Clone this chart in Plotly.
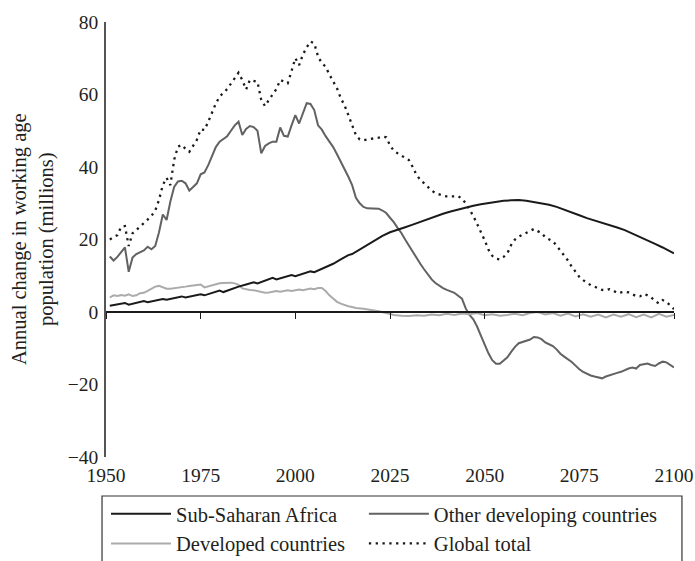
import plotly.graph_objects as go

# ---- data ----
ssa_years = [1951, 1953, 1955, 1956, 1958, 1960, 1961, 1963, 1965, 1966, 1968, 1970, 1971, 1973, 1975,
             1976, 1978, 1980, 1981, 1983, 1985, 1987, 1989, 1990, 1992, 1994, 1995, 1997, 1999, 2000,
             2002, 2004, 2005, 2007, 2009, 2010, 2012, 2014, 2015, 2017, 2019, 2021, 2023, 2025, 2027,
             2029, 2031, 2033, 2035, 2037, 2039, 2041, 2043, 2045, 2047, 2049, 2051, 2053, 2055, 2057,
             2059, 2061, 2063, 2065, 2067, 2069, 2071, 2073, 2075, 2077, 2079, 2081, 2083, 2085, 2087,
             2089, 2091, 2093, 2095, 2097, 2099, 2100]
ssa_values = [1.7, 2.1, 2.5, 2.0, 2.6, 3.0, 2.7, 3.2, 3.6, 3.4, 3.9, 4.3, 4.0, 4.5, 4.9,
              4.6, 5.3, 5.9, 5.5, 6.3, 7.0, 7.6, 8.2, 7.9, 8.7, 9.4, 9.0, 9.7, 10.2, 9.9,
              10.6, 11.2, 11.0, 11.9, 12.8, 13.3, 14.5, 15.7, 16.0, 17.3, 18.6, 19.9, 21.0, 22.0, 22.6,
              23.4, 24.1, 24.9, 25.7, 26.4, 27.1, 27.7, 28.3, 28.8, 29.3, 29.7, 30.1, 30.4, 30.7, 30.8,
              30.9, 30.7, 30.3, 30.1, 29.6, 29.0, 28.3, 27.5, 26.7, 25.9, 25.3, 24.6, 23.9, 23.3, 22.6,
              21.7, 20.8, 19.8, 18.8, 17.8, 16.7, 16.2]

other_years = list(range(1951, 2101))
other_values = [15.3, 14.2, 15.2, 16.5, 17.8, 11.1, 15.0, 16.0, 16.4, 17.0,
                18.0, 17.3, 18.2, 22.0, 26.9, 25.4, 30.5, 34.5, 36.0, 36.2,
                35.5, 33.5, 34.5, 35.5, 38.0, 38.5, 40.5, 43.0, 45.5, 47.0,
                47.8, 48.5, 50.0, 51.5, 52.5, 48.8, 50.5, 51.3, 51.0, 50.0,
                43.8, 45.8, 46.5, 47.0, 47.0, 50.9, 48.6, 48.4, 51.5, 54.3,
                52.0, 55.0, 57.6, 57.4, 55.7, 51.5, 50.3, 48.5, 47.0, 45.5,
                43.5, 41.5, 39.5, 37.3, 35.0, 31.5, 30.0, 29.0, 28.6, 28.6,
                28.6, 28.5, 28.0, 27.3, 26.0, 24.8, 23.2, 21.8, 20.0, 18.3,
                16.5, 14.8, 13.3, 11.8, 10.3, 9.0, 8.0, 7.2, 6.6, 6.1,
                5.7, 5.3, 4.5, 3.7, 1.0, -0.8, -2.0, -4.0, -6.5, -9.0,
                -11.4, -13.3, -14.3, -14.3, -13.5, -12.5, -11.0, -9.6, -8.6, -8.2,
                -8.0, -7.6, -6.9, -7.0, -7.5, -8.4, -8.9, -9.4, -10.3, -11.5,
                -12.3, -13.0, -13.8, -14.8, -15.8, -16.5, -17.1, -17.5, -17.8, -18.0,
                -18.3, -17.8, -17.4, -17.2, -16.8, -16.5, -16.0, -15.6, -15.3, -15.6,
                -14.6, -14.3, -14.2, -14.6, -14.9, -14.2, -13.7, -13.9, -14.5, -15.3]

dev_years = [1951, 1952, 1953, 1954, 1955, 1956, 1957, 1958, 1959, 1960, 1961, 1962, 1963, 1964, 1965,
             1966, 1967, 1968, 1969, 1970, 1971, 1972, 1973, 1974, 1975, 1976, 1977, 1978, 1979, 1980,
             1981, 1982, 1983, 1984, 1985, 1986, 1987, 1988, 1989, 1990, 1991, 1992, 1993, 1994, 1995,
             1996, 1997, 1998, 1999, 2000, 2001, 2002, 2003, 2004, 2005, 2006, 2007, 2008, 2009, 2010,
             2011, 2012, 2013, 2014, 2015, 2016, 2018, 2020, 2022, 2024, 2026, 2028, 2030, 2032, 2034,
             2036, 2038, 2040, 2042, 2044, 2046, 2048, 2050, 2052, 2054, 2056, 2058, 2060, 2062, 2064,
             2066, 2068, 2070, 2072, 2074, 2076, 2078, 2080, 2082, 2084, 2086, 2088, 2090, 2092, 2094,
             2096, 2098, 2100]
dev_values = [4.0, 4.6, 4.4, 4.7, 4.5, 4.9, 4.4, 4.6, 5.2, 5.3, 5.8, 6.4, 7.0, 7.2, 6.9,
              6.4, 6.4, 6.5, 6.6, 6.9, 7.0, 7.2, 7.4, 7.5, 7.6, 6.8, 7.1, 7.4, 7.7, 7.9,
              8.0, 8.1, 8.1, 7.9, 7.5, 6.5, 6.2, 6.1, 6.0, 5.8, 5.5, 5.3, 5.4, 5.6, 5.8,
              5.6, 5.9, 6.0, 5.8, 6.0, 6.2, 6.0, 6.2, 6.5, 6.3, 6.6, 6.6, 5.8, 4.6, 3.6,
              2.8, 2.3, 1.9, 1.6, 1.4, 1.1, 0.9, 0.6, 0.2, -0.3, -0.8, -1.0, -1.1, -0.9, -1.0,
              -0.7, -0.9, -0.5, -0.8, -0.4, -0.6, -0.3, -0.9, -0.6, -1.0, -0.8, -0.5, -0.9, -0.3, 0.0,
              -0.7, -0.3, -1.0, -0.4, -1.2, -0.6, -1.3, -0.7, -1.5, -0.7, -1.3, -0.6, -1.4, -0.7, -1.5,
              -0.5, -1.3, -0.8]

global_years = list(range(1951, 2101))
global_values = [20.0, 20.6, 21.2, 23.5, 23.7, 18.2, 21.7, 22.6, 23.5, 24.5,
                 25.5, 26.5, 28.0, 30.9, 35.0, 37.0, 35.0, 42.0, 45.6, 46.1,
                 45.0, 44.2, 46.0, 47.5, 50.4, 50.2, 52.5, 55.0, 57.5, 59.4,
                 60.5, 61.5, 63.0, 64.5, 66.0, 64.0, 61.4, 64.0, 63.8, 63.5,
                 58.5, 56.8, 58.5, 59.9, 61.5, 64.0, 63.5, 63.1, 66.5, 70.0,
                 68.1, 71.0, 73.0, 74.6, 74.1, 70.5, 68.6, 67.7, 65.5, 63.5,
                 61.7, 59.0, 57.0, 54.3, 51.5, 48.8, 47.6, 47.4, 47.6, 47.7,
                 47.9, 48.1, 48.4, 48.2, 46.0, 44.5, 43.8, 43.2, 42.5, 41.9,
                 40.0, 37.8, 36.5, 35.5, 34.6, 33.5, 32.8, 32.4, 32.1, 31.9,
                 31.8, 31.9, 32.0, 31.2, 30.0, 28.3, 26.5, 24.3, 22.2, 19.8,
                 17.2, 15.5, 14.7, 14.5, 15.2, 16.2, 18.5, 20.0, 20.8, 21.3,
                 21.7, 22.2, 22.9, 22.3, 21.8, 20.6, 20.0, 19.5, 18.3, 17.0,
                 15.5, 14.2, 12.5, 11.0, 9.7, 8.8, 8.0, 7.4, 7.0, 6.5,
                 6.1, 6.0, 6.3, 5.9, 5.2, 5.4, 5.6, 5.4, 4.9, 4.4,
                 4.3, 5.0, 4.6, 4.0, 3.0, 2.4, 3.3, 2.8, 1.8, 0.8]

x_ticks = [1950, 1975, 2000, 2025, 2050, 2075, 2100]
y_ticks = [-40, -20, 0, 20, 40, 60, 80]
y_range = [-40, 80]

series_names = ["Sub-Saharan Africa", "Other developing countries", "Developed countries", "Global total"]
y_title = "Annual change in working age<br>population (millions)"

FONT = "Liberation Serif, Times New Roman, serif"
TXT = "#231f20"

fig = go.Figure()
fig.add_trace(go.Scatter(x=ssa_years, y=ssa_values, mode="lines", name=series_names[0],
                         line=dict(color="#1a1a1a", width=2), xaxis="x2", legend="legend"))
fig.add_trace(go.Scatter(x=other_years, y=other_values, mode="lines", name=series_names[1],
                         line=dict(color="#626262", width=2), legend="legend2"))
fig.add_trace(go.Scatter(x=dev_years, y=dev_values, mode="lines", name=series_names[2],
                         line=dict(color="#ababab", width=2), legend="legend"))
fig.add_trace(go.Scatter(x=global_years, y=global_values, mode="lines", name=series_names[3],
                         line=dict(color="#1a1a1a", width=2.3, dash="2.3px,4.5px"), legend="legend2"))

zero_pos = (0 - y_range[0]) / (y_range[1] - y_range[0])

legend_common = dict(orientation="v", y=-0.085, yanchor="top", xanchor="left",
                     borderwidth=0, bgcolor="rgba(0,0,0,0)",
                     font=dict(family=FONT, size=20.5, color=TXT),
                     itemwidth=60, traceorder="normal")

fig.update_layout(
    width=695, height=561,
    margin=dict(l=106, r=21, t=22, b=104, autoexpand=False),
    paper_bgcolor="white", plot_bgcolor="white",
    font=dict(family=FONT, size=20, color=TXT),
    showlegend=True,
    xaxis=dict(range=[1950, 2100], tickvals=x_ticks, ticks="", showline=False,
               showgrid=False, zeroline=False, automargin=False,
               tickfont=dict(family=FONT, size=19.5, color=TXT),
               ticklabelstandoff=4),
    xaxis2=dict(matches="x", overlaying="x", anchor="free", position=zero_pos, side="bottom",
                showline=True, linecolor="#1a1a1a", linewidth=1.5,
                ticks="outside", tickvals=x_ticks, ticklen=6, tickwidth=1.2, tickcolor="#1a1a1a",
                showticklabels=False, showgrid=False, zeroline=False),
    yaxis=dict(range=y_range, tickvals=y_ticks, showgrid=False, zeroline=False,
               showline=True, linecolor="#555555", linewidth=1.5, ticks="",
               automargin=False,
               tickfont=dict(family=FONT, size=19.5, color=TXT), ticklabelstandoff=2),
    annotations=[dict(text=y_title, xref="paper", yref="paper", x=-0.1294, y=0.5,
                      xanchor="center", yanchor="middle", textangle=-90, showarrow=False,
                      font=dict(family=FONT, size=20.5, color=TXT))],
    legend=dict(x=0.0, **legend_common),
    legend2=dict(x=0.454, **legend_common),
    shapes=[dict(type="rect", xref="paper", yref="paper",
                 x0=-0.007, x1=1.014, y0=-0.0897, y1=-0.30,
                 line=dict(color="#333333", width=1.2), fillcolor="rgba(0,0,0,0)",
                 layer="above")],
)

# remove the browser's default page margin so the 695x561 figure fills the window exactly
fig.write_html("out.html",
               config={"displayModeBar": False},
               post_script="document.body.style.margin='0';document.body.style.overflow='hidden';")
